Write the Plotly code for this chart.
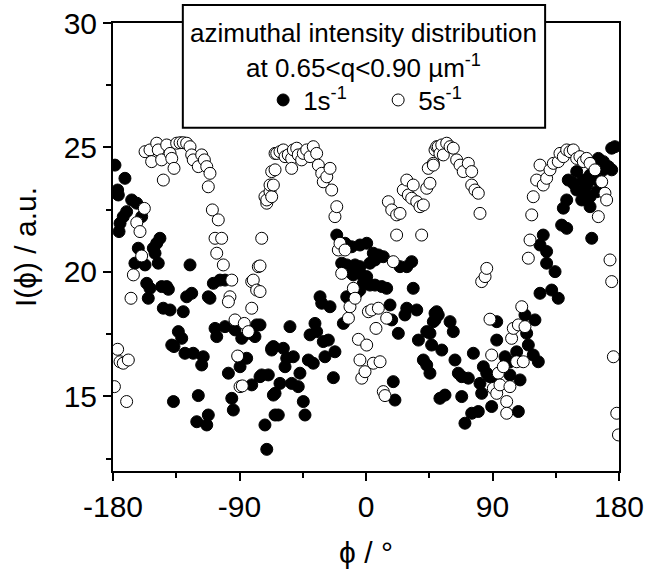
import plotly.graph_objects as go

# 1 s^-1 (filled circles)
phi_1s = [-178.6, -176.7, -176.2, -175.7, -175.0, -172.7, -171.5, -170.3, -166.7, -164.4,
          -163.1, -162.0, -159.6, -157.2, -156.0, -154.9, -153.7, -151.3, -150.1, -148.9,
          -147.8, -146.6, -145.4, -144.2, -141.8, -140.6, -139.4, -138.2, -137.0, -136.6,
          -133.5, -131.1, -130.0, -128.8, -127.6, -125.2, -124.0, -122.9, -120.4, -119.3,
          -116.9, -115.8, -113.3, -112.2, -112.2, -111.0, -108.6, -107.4, -106.2, -103.9,
          -100.3, -100.3, -97.9, -95.5, -94.4, -93.2, -90.8, -89.6, -88.4, -84.9,
          -83.7, -81.3, -79.0, -77.8, -75.4, -75.4, -74.2, -71.9, -70.6, -69.5,
          -67.1, -67.1, -65.9, -65.9, -64.7, -64.7, -62.4, -61.2, -58.8, -57.6,
          -56.4, -54.1, -52.9, -51.7, -48.2, -47.0, -44.6, -43.4, -41.0, -39.8,
          -37.5, -36.3, -35.1, -32.7, -31.5, -30.4, -29.2, -26.8, -25.6, -23.2,
          -22.1, -20.8, -17.3, -16.1, -14.9, -13.7, -13.7, -12.5, -10.2, -10.2,
          -9.0, -7.8, -6.6, -4.3, -4.3, -4.3, -3.0, -1.9, 0.5, 0.5,
          2.8, 2.8, 5.2, 6.4, 6.4, 8.8, 11.2, 12.3, 14.7, 17.1,
          18.3, 19.4, 20.6, 23.0, 24.2, 27.7, 29.0, 29.0, 32.5, 33.6,
          36.1, 37.3, 40.8, 43.2, 43.2, 45.5, 45.5, 46.7, 47.9, 49.1,
          49.1, 50.3, 51.4, 52.6, 53.9, 56.2, 59.8, 62.1, 63.3, 65.7,
          68.1, 68.1, 70.4, 72.8, 75.2, 76.4, 79.9, 81.1, 82.3, 83.5,
          85.9, 88.2, 89.4, 93.0, 93.0, 93.0, 98.9, 102.4, 102.4, 107.2,
          108.4, 109.6, 113.1, 114.3, 115.5, 119.0, 120.2, 122.6, 123.8, 123.8,
          126.1, 128.5, 128.5, 132.1, 134.5, 136.8, 139.2, 140.4, 142.8, 142.8,
          143.9, 147.5, 149.9, 149.9, 153.5, 154.6, 155.8, 157.0, 159.4, 159.4,
          159.4, 160.6, 164.1, 164.1, 165.3, 168.9, 168.9, 172.4, 174.8, 174.8,
          177.1]
int_1s = [24.29, 23.29, 23.09, 21.62, 21.95, 22.22, 23.76, 22.42, 22.89, 20.35,
          22.76, 20.95, 22.22, 20.28, 19.54, 18.94, 19.34, 20.95, 20.75, 21.15,
          20.35, 21.35, 19.41, 18.54, 19.41, 19.30, 18.47, 17.06, 14.79, 17.00,
          17.60, 17.33, 18.40, 16.73, 19.00, 20.28, 19.14, 16.73, 13.98, 15.03,
          16.26, 16.59, 13.85, 14.25, 19.00, 18.94, 19.54, 17.73, 17.40, 19.67,
          19.67, 17.80, 15.93, 14.92, 14.45, 17.67, 16.59, 16.19, 17.33, 16.53,
          17.53, 15.46, 17.40, 17.87, 17.87, 15.79, 15.86, 13.85, 12.87, 15.86,
          16.93, 16.86, 17.00, 15.05, 15.12, 14.25, 14.25, 15.52, 16.93, 16.19,
          16.53, 17.80, 15.52, 16.59, 15.39, 15.93, 14.79, 14.25, 16.46, 17.47,
          16.33, 17.93, 17.60, 19.00, 18.74, 17.20, 16.59, 17.26, 18.60, 15.75,
          16.79, 21.48, 20.35, 17.93, 21.15, 20.28, 19.00, 18.94, 21.01, 19.94,
          19.88, 20.28, 19.14, 21.08, 20.21, 19.27, 19.88, 19.54, 21.15, 19.81,
          20.35, 19.47, 20.75, 20.48, 19.47, 20.68, 19.41, 20.61, 19.34, 18.67,
          18.07, 15.59, 14.85, 17.53, 20.21, 18.27, 20.21, 18.54, 20.41, 19.34,
          18.47, 17.26, 16.46, 17.60, 16.26, 17.53, 15.93, 17.06, 18.00, 18.34,
          18.07, 18.40, 18.27, 14.92, 16.86, 15.05, 18.00, 17.60, 16.46, 15.93,
          15.79, 14.99, 13.92, 15.73, 14.32, 16.73, 14.39, 15.52, 15.12, 16.19,
          15.93, 15.79, 14.59, 18.00, 17.26, 15.52, 16.59, 15.86, 16.39, 16.79,
          14.39, 15.66, 18.27, 17.53, 17.06, 16.66, 18.07, 16.39, 21.08, 19.14,
          21.48, 20.82, 20.35, 19.27, 20.01, 18.94, 21.88, 22.56, 22.89, 21.75,
          23.69, 23.56, 24.03, 23.29, 22.89, 23.69, 23.16, 23.49, 23.89, 23.02,
          22.62, 21.35, 23.69, 23.22, 24.56, 24.43, 24.10, 24.23, 24.97, 24.10,
          25.03]

# 5 s^-1 (open circles)
phi_5s = [-179.0, -176.7, -175.0, -172.7, -170.3, -169.1, -167.2, -165.5, -163.1, -160.8,
          -159.6, -157.7, -157.2, -153.7, -152.5, -148.9, -147.8, -145.4, -144.2, -141.8,
          -139.4, -138.2, -136.6, -134.7, -132.3, -130.0, -127.6, -125.2, -124.0, -122.9,
          -119.3, -116.9, -115.0, -113.3, -111.0, -112.2, -109.3, -105.1, -107.4, -102.7,
          -106.2, -101.5, -95.5, -96.8, -97.9, -93.2, -91.3, -89.6, -88.0, -86.6,
          -83.7, -81.3, -81.3, -80.2, -77.8, -76.6, -75.4, -75.4, -74.2, -71.9,
          -70.6, -70.6, -68.3, -68.3, -67.1, -67.1, -65.9, -64.7, -64.7, -63.5,
          -61.2, -58.8, -57.6, -55.3, -52.9, -52.9, -51.7, -49.3, -48.2, -45.8,
          -44.6, -42.2, -39.8, -37.5, -35.1, -33.9, -31.5, -30.4, -27.9, -25.6,
          -24.4, -22.1, -20.8, -19.7, -18.5, -17.3, -14.9, -12.5, -11.4, -9.0,
          -7.8, -5.4, -4.3, -3.0, -0.7, 0.5, 1.7, 4.0, 5.2, 7.1,
          8.8, 10.0, 12.3, 13.5, 14.7, 15.9, 18.3, 19.4, 21.8, 21.8,
          24.2, 26.5, 29.0, 30.1, 32.5, 33.6, 36.1, 38.4, 39.6, 40.8,
          43.2, 44.3, 45.5, 47.9, 47.9, 49.1, 50.3, 51.4, 52.6, 53.9,
          55.0, 57.4, 59.8, 62.1, 64.5, 66.9, 69.2, 72.8, 75.2, 75.2,
          77.5, 79.9, 81.1, 82.3, 84.7, 85.9, 88.2, 89.4, 90.6, 93.0,
          94.1, 95.3, 97.7, 100.1, 100.1, 102.4, 103.6, 104.8, 107.2, 108.4,
          110.8, 111.9, 113.1, 115.5, 116.7, 117.9, 119.0, 121.4, 123.8, 126.1,
          128.5, 130.9, 133.3, 136.8, 138.0, 140.4, 142.8, 145.1, 147.5, 149.9,
          152.2, 154.6, 157.0, 159.4, 162.9, 165.3, 167.7, 170.0, 171.2, 173.6,
          174.8, 176.0, 178.4, 179.6]
int_5s = [15.39, 16.89, 16.39, 16.33, 14.79, 16.46, 18.94, 19.88, 21.98, 21.62,
          20.64, 22.55, 24.83, 24.90, 24.43, 25.17, 24.90, 24.50, 23.69, 25.10,
          24.76, 24.56, 24.16, 25.17, 25.19, 25.19, 25.17, 25.03, 24.70, 24.50,
          24.23, 24.70, 24.50, 24.23, 23.96, 23.42, 22.49, 22.09, 21.35, 21.35,
          20.75, 20.28, 19.67, 19.00, 18.80, 18.07, 16.62, 15.39, 15.42, 17.93,
          17.60, 18.54, 19.61, 19.67, 19.27, 20.21, 20.24, 19.21, 21.35, 23.02,
          22.76, 22.89, 23.22, 23.49, 23.02, 24.03, 23.49, 24.10, 24.76, 24.76,
          24.83, 24.90, 24.63, 24.70, 24.56, 24.16, 24.90, 24.97, 24.70, 24.50,
          24.76, 24.90, 24.63, 25.03, 24.76, 24.29, 23.96, 23.62, 23.82, 24.16,
          23.29, 22.22, 22.62, 20.88, 21.15, 19.94, 20.88, 18.14, 18.60, 19.34,
          18.94, 17.29, 16.46, 15.73, 15.99, 17.06, 18.40, 18.47, 16.33, 17.73,
          18.54, 16.39, 15.19, 15.03, 18.14, 22.82, 22.49, 20.41, 22.29, 21.48,
          22.35, 23.29, 23.69, 23.09, 22.96, 23.49, 22.82, 22.62, 21.48, 22.69,
          23.36, 24.16, 23.56, 24.36, 24.29, 24.90, 25.03, 25.03, 24.76, 25.10,
          24.70, 25.17, 25.03, 24.97, 24.50, 24.29, 24.03, 24.36, 24.03, 23.49,
          23.29, 23.16, 22.35, 19.61, 19.81, 20.14, 18.10, 16.66, 15.32, 15.12,
          15.93, 15.46, 16.19, 14.79, 14.32, 15.39, 17.33, 17.73, 16.39, 17.87,
          18.60, 16.39, 17.80, 20.55, 21.28, 22.29, 23.02, 23.69, 24.29, 23.49,
          23.76, 24.10, 24.36, 24.43, 24.76, 24.63, 24.90, 24.83, 24.90, 24.56,
          24.63, 24.43, 24.56, 24.36, 24.10, 22.22, 23.62, 23.16, 22.89, 20.48,
          19.61, 16.59, 14.32, 13.45]

x_ticks = [-180, -90, 0, 90, 180]
x_ticktext = ["-180", "-90", "0", "90", "180"]
y_ticks = [15, 20, 25, 30]

FONT = "Liberation Sans, Arial, sans-serif"

fig = go.Figure()

fig.add_trace(go.Scatter(
    x=phi_1s, y=int_1s, mode="markers", name="1s<sup>-1</sup>",
    marker=dict(symbol="circle", size=12, color="black", line=dict(color="black", width=1))
))
fig.add_trace(go.Scatter(
    x=phi_5s, y=int_5s, mode="markers", name="5s<sup>-1</sup>",
    marker=dict(symbol="circle", size=12, color="white", line=dict(color="black", width=1))
))

fig.update_layout(
    width=651,
    height=576,
    margin=dict(l=113, r=32, t=23, b=105),
    paper_bgcolor="white",
    plot_bgcolor="white",
    font=dict(family=FONT, color="black", size=30),
    showlegend=True,
    legend=dict(
        orientation="h",
        x=0.524, xanchor="center",
        y=0.828, yanchor="middle",
        bgcolor="rgba(0,0,0,0)",
        borderwidth=0,
        font=dict(size=26),
        entrywidth=70,
        itemsizing="trace",
    ),
    xaxis=dict(
        range=[-180, 180],
        tickvals=x_ticks, ticktext=x_ticktext,
        ticks="outside", ticklen=8, tickwidth=2, tickcolor="black",
        minor=dict(dtick=45, tick0=0, ticks="outside", ticklen=5, tickwidth=2, tickcolor="black"),
        showline=True, linewidth=2, linecolor="black", mirror=True,
        showgrid=False, zeroline=False, automargin=False,
        title=dict(text="ϕ / °", font=dict(size=30), standoff=20),
    ),
    yaxis=dict(
        range=[12, 30],
        tickvals=y_ticks,
        ticks="outside", ticklen=8, tickwidth=2, tickcolor="black",
        minor=dict(dtick=2.5, tick0=0, ticks="outside", ticklen=5, tickwidth=2, tickcolor="black"),
        showline=True, linewidth=2, linecolor="black", mirror=True,
        showgrid=False, zeroline=False, automargin=False,
        title=dict(text="I(ϕ) / a.u.", font=dict(size=30), standoff=18),
    ),
    yaxis2=dict(
        range=[12, 30], overlaying="y", side="right",
        tickvals=y_ticks, showticklabels=False,
        ticks="inside", ticklen=8, tickwidth=2, tickcolor="black",
        minor=dict(dtick=2.5, tick0=0, ticks="inside", ticklen=5, tickwidth=2, tickcolor="black"),
        showline=False, showgrid=False, zeroline=False, automargin=False,
    ),
)

# legend frame and its heading
fig.add_shape(type="rect", xref="paper", yref="paper",
              x0=0.138, x1=0.854, y0=0.766, y1=1.040,
              line=dict(color="black", width=2), fillcolor="white", layer="above")
fig.add_annotation(text="azimuthal intensity distribution", xref="paper", yref="paper",
                   x=0.496, y=0.978, xanchor="center", yanchor="middle",
                   showarrow=False, font=dict(size=26))
fig.add_annotation(text="at 0.65&lt;q&lt;0.90 µm<sup>-1</sup>", xref="paper", yref="paper",
                   x=0.496, y=0.904, xanchor="center", yanchor="middle",
                   showarrow=False, font=dict(size=26))

# page body has a default 8px margin; drop it so the figure sits at the window origin
fig.write_html("out.html", config={"displayModeBar": False},
               post_script="document.body.style.margin = '0';")
